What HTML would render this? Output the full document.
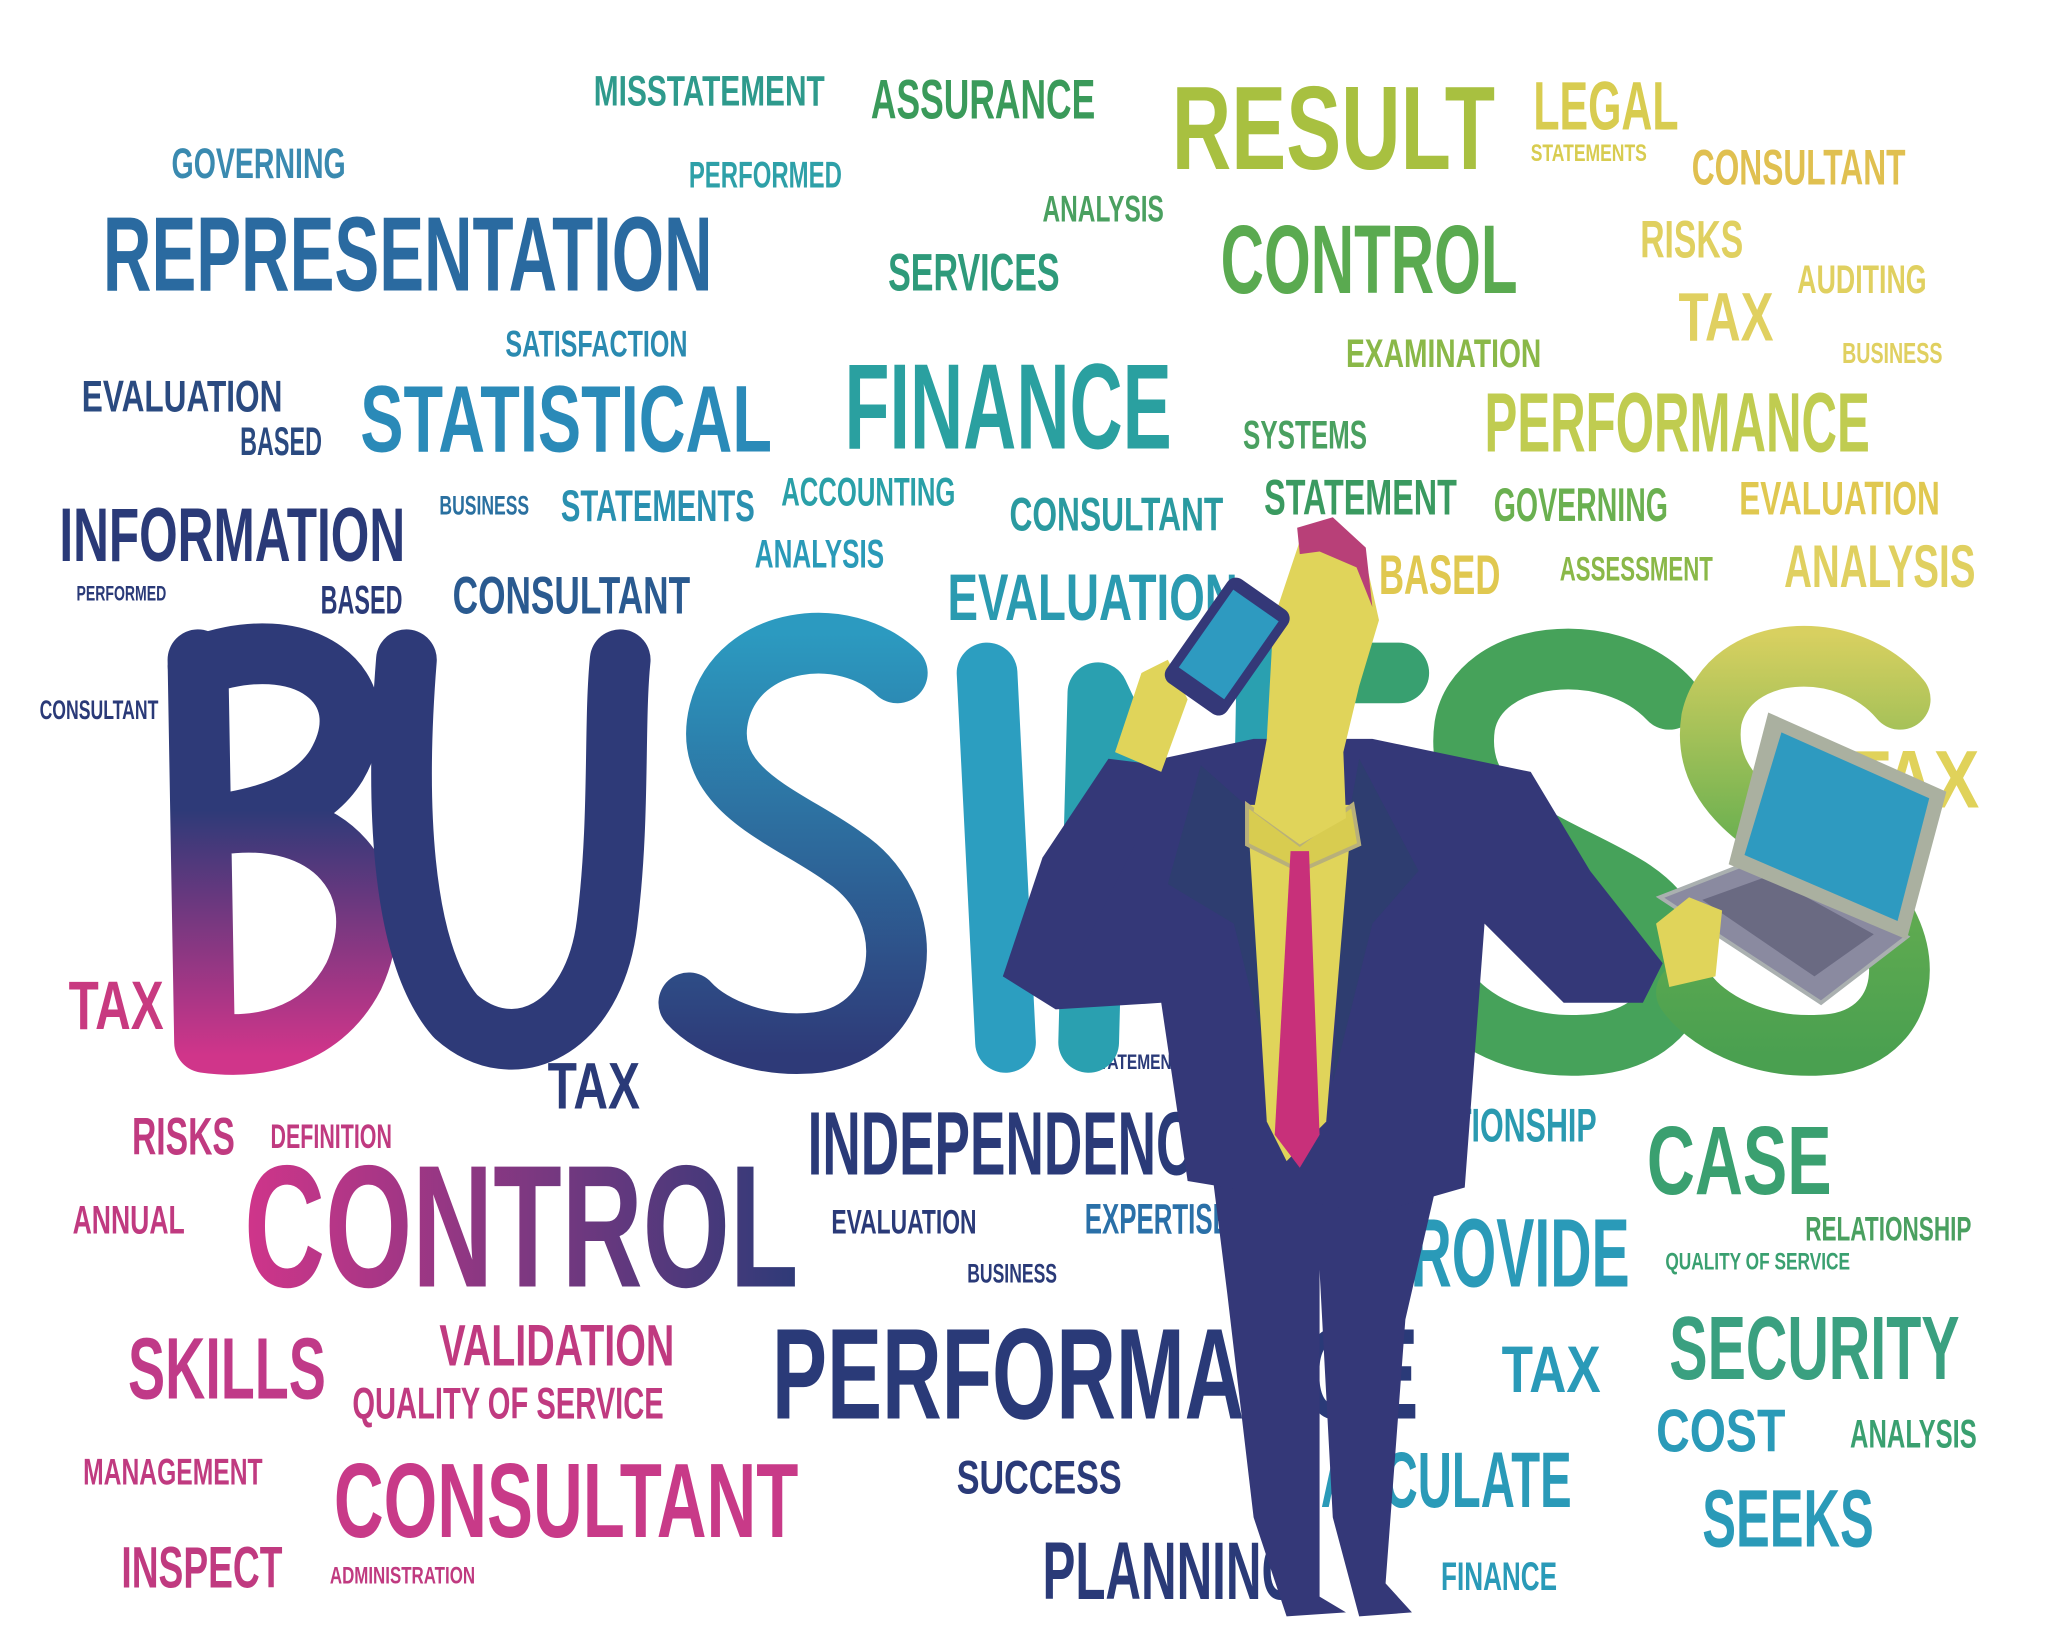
<!DOCTYPE html>
<html><head><meta charset="utf-8"><style>
html,body{margin:0;padding:0;background:#fff;width:2048px;height:1652px;overflow:hidden}
svg{display:block}
text{font-family:"Liberation Sans Narrow","Liberation Sans",sans-serif;font-weight:bold;}
</style></head><body>
<svg width="2048" height="1652" viewBox="0 0 1552 1252" preserveAspectRatio="none" xmlns="http://www.w3.org/2000/svg">
<defs>
<linearGradient id="gB" gradientUnits="userSpaceOnUse" x1="0" y1="490" x2="0" y2="800"><stop offset="0.4" stop-color="#2e3a78"/><stop offset="1" stop-color="#d0358a"/></linearGradient>
<linearGradient id="gS" gradientUnits="userSpaceOnUse" x1="0" y1="480" x2="0" y2="800"><stop offset="0" stop-color="#2c9ac0"/><stop offset="1" stop-color="#2e3a78"/></linearGradient>
<linearGradient id="gS4" gradientUnits="userSpaceOnUse" x1="0" y1="480" x2="0" y2="800"><stop offset="0" stop-color="#d8d060"/><stop offset="0.5" stop-color="#6ab050"/><stop offset="1" stop-color="#4aa050"/></linearGradient>
<linearGradient id="gC" x1="0" y1="0" x2="1" y2="0"><stop offset="0" stop-color="#d0358a"/><stop offset="1" stop-color="#2e3a78"/></linearGradient>
</defs>
<g id="words"></g>
<g fill="none" stroke-width="46" stroke-linecap="round" stroke-linejoin="round">
<path d="M150,500 L155,790 M150,505 C230,475 290,520 255,580 C235,612 195,620 165,625 C250,612 300,670 268,740 C242,790 190,795 155,790" stroke="url(#gB)"/>
<path d="M308,500 C300,600 302,720 345,770 C390,810 450,780 460,700 C470,620 465,550 470,500" stroke="#2e3a78"/>
<path d="M680,510 C640,472 560,482 545,540 C530,600 600,620 640,650 C700,690 690,780 620,790 C580,795 540,780 522,760" stroke="url(#gS)"/>
<path d="M748,510 L762,790" stroke="#2c9ec0"/>
<path d="M825,790 L832,525 L955,785 L960,510" stroke="#2aa0b0"/>
<path d="M1060,510 L990,510 L985,785 L1070,785 M985,640 L1050,640" stroke="#38a070"/>
<path d="M1265,530 C1220,482 1120,492 1110,550 C1100,620 1180,640 1230,670 C1300,710 1280,790 1200,792 C1150,795 1112,772 1098,752" stroke="#46a25a"/>
<path d="M1440,530 C1400,482 1310,487 1297,545 C1287,610 1360,635 1400,665 C1460,710 1450,790 1380,792 C1330,795 1292,772 1278,752" stroke="url(#gS4)"/>
</g>
<text x="1400" y="612" font-size="62" fill="#e0d25a" textLength="100" lengthAdjust="spacingAndGlyphs">TAX</text>
<g>
<polygon points="915,860 1000,870 1000,1210 1020,1222 975,1225 950,1150 930,980" fill="#343878"/>
<polygon points="995,870 1095,870 1065,1000 1050,1200 1070,1222 1030,1225 1010,1150" fill="#343878"/>
<polygon points="880,575 950,560 1040,560 1160,585 1205,660 1260,730 1245,760 1185,760 1125,700 1110,900 1040,920 960,905 900,895 880,760 800,765 760,740 790,660 850,590" fill="#343878"/>
<polygon points="760,740 790,650 840,575 880,580 860,640 800,760" fill="#343878"/>
<polygon points="910,580 955,620 965,820 935,700 885,670" fill="#2e3d70"/>
<polygon points="1030,575 1075,660 1040,700 1010,820 1020,630" fill="#2e3d70"/>
<polygon points="945,610 1025,610 1005,850 975,880 960,850" fill="#e0d45a"/>
<polygon points="945,610 985,640 1025,610 1030,640 985,660 945,640" fill="#d8cc50" stroke="#b8b07a" stroke-width="3"/>
<polygon points="978,645 992,645 1000,860 985,885 966,860" fill="#c8307a"/>
<polygon points="985,410 1035,425 1045,470 1030,520 1018,570 1020,620 985,640 950,615 960,560 965,470" fill="#e0d45a"/>
<polygon points="983,400 1010,392 1035,415 1040,460 1028,430 1000,418 985,420" fill="#b84078"/>
<polygon points="845,570 865,510 885,500 900,530 880,585" fill="#e0d45a"/>
<g transform="translate(930,490) rotate(35)">
<rect x="-28" y="-48" width="56" height="96" rx="8" fill="#343878"/>
<rect x="-21" y="-38" width="42" height="72" fill="#2e9ac0"/>
</g>
<polygon points="1258,680 1335,650 1445,710 1380,760" fill="#8a8aa0" stroke="#aab0b0" stroke-width="3"/>
<polygon points="1290,682 1340,664 1420,708 1375,740" fill="#6a6a82"/>
<polygon points="1340,540 1475,600 1445,712 1310,655" fill="#aab0a0"/>
<polygon points="1350,555 1462,605 1438,698 1322,648" fill="#2e9ac0"/>
<polygon points="1255,700 1280,680 1305,690 1300,740 1265,748" fill="#e0d45a"/>
</g>
<script>
const words=[
["MISSTATEMENT",450,80,175,32,"#2e9a8c"],["ASSURANCE",660,90,170,42,"#3a9a5a"],["RESULT",888,128,245,90,"#a8c040"],
["LEGAL",1162,98,110,52,"#d8cc50"],["STATEMENTS",1160,122,88,18,"#d8cc50"],["CONSULTANT",1282,140,162,38,"#e0c050"],
["GOVERNING",130,135,132,32,"#3a8ab0"],["PERFORMED",522,142,116,28,"#2ea0a8"],["ANALYSIS",790,168,92,28,"#4aa060"],
["REPRESENTATION",78,220,462,80,"#2a6aa0"],["SERVICES",673,220,130,40,"#2e9a7a"],["CONTROL",925,222,225,74,"#5aaa50"],
["RISKS",1243,195,78,40,"#e0d060"],["AUDITING",1362,222,98,30,"#e0d060"],["TAX",1272,258,72,52,"#e0d060"],
["SATISFACTION",383,270,138,28,"#2a8ab0"],["EXAMINATION",1020,278,148,30,"#8ab848"],["BUSINESS",1396,275,76,22,"#e0d060"],
["EVALUATION",62,312,152,34,"#2a4a80"],["BASED",182,345,62,30,"#2a4a80"],["STATISTICAL",273,342,312,72,"#2a8ab8"],
["FINANCE",640,340,248,92,"#2aa0a0"],["SYSTEMS",942,340,94,30,"#4aa060"],["PERFORMANCE",1125,342,292,64,"#c0cc50"],
["INFORMATION",45,425,262,58,"#2a3a78"],["BUSINESS",333,390,68,20,"#2a70a0"],["STATEMENTS",425,395,147,34,"#2a90b0"],
["ACCOUNTING",592,383,132,30,"#2aa0a8"],["CONSULTANT",765,402,162,36,"#2a9aa0"],["STATEMENT",958,390,146,38,"#3a9a60"],
["GOVERNING",1132,395,132,36,"#6ab050"],["EVALUATION",1318,390,152,36,"#e0c850"],["ANALYSIS",572,430,98,30,"#2a9ab8"],
["PERFORMED",58,455,68,16,"#2a3a78"],["BASED",243,465,62,30,"#2a3a78"],["CONSULTANT",343,465,180,40,"#2a5a90"],
["EVALUATION",718,470,220,50,"#2a9ab0"],["BASED",1045,450,92,42,"#e0c850"],["ASSESSMENT",1182,440,116,26,"#8ab848"],
["ANALYSIS",1352,445,145,46,"#e0d060"],["CONSULTANT",30,545,90,20,"#2a3a78"],["TAX",52,780,72,52,"#c83a80"],
["STATEMENTS",825,810,78,16,"#2a3a78"],["TAX",415,840,70,50,"#2a3a78"],["RISKS",100,875,78,40,"#c03a80"],
["DEFINITION",205,870,92,26,"#c03a80"],["INDEPENDENCE",612,890,320,68,"#2a3a78"],["RELATIONSHIP",1040,865,170,36,"#2a9ab0"],
["CASE",1248,905,140,74,"#3aa070"],["ANNUAL",55,935,85,30,"#c03a80"],["EVALUATION",630,935,110,26,"#2a3a78"],
["EXPERTISE",822,935,110,32,"#2a70a8"],["PROVIDE",1040,975,195,74,"#2a9ab8"],["RELATIONSHIP",1368,940,126,26,"#4aa060"],
["QUALITY OF SERVICE",1262,962,140,18,"#3aa070"],["BUSINESS",733,972,68,20,"#2a3a78"],["SKILLS",97,1060,150,66,"#c03a88"],
["VALIDATION",333,1035,178,44,"#c03a80"],["QUALITY OF SERVICE",267,1075,236,34,"#c03a80"],["PERFORMANCE",585,1075,490,98,"#2a3a78"],
["TAX",1138,1055,75,50,"#2a9ab8"],["SECURITY",1265,1045,220,68,"#3aa080"],["COST",1255,1100,98,46,"#2a9ab8"],
["ANALYSIS",1402,1097,96,30,"#3aa070"],["MANAGEMENT",63,1125,136,28,"#c03a80"],["CONSULTANT",253,1165,352,80,"#c83a88"],
["SUCCESS",725,1132,125,36,"#2a3a78"],["CALCULATE",975,1142,216,60,"#2a9ab8"],["SEEKS",1290,1172,130,62,"#2a9ab8"],
["INSPECT",92,1203,122,44,"#c03a80"],["ADMINISTRATION",250,1200,110,18,"#c03a80"],["PLANNING",790,1212,195,62,"#2a3a78"],
["FINANCE",1092,1205,88,30,"#2a9ab8"]
];
const g=document.getElementById('words');
const NS="http://www.w3.org/2000/svg";
words.forEach(w=>{
  const t=document.createElementNS(NS,'text');
  
  
  t.setAttribute('x',w[1]);t.setAttribute('y',w[2]);
  t.setAttribute('textLength',w[3]);t.setAttribute('lengthAdjust','spacingAndGlyphs');
  t.setAttribute('font-size',w[4]);
  t.setAttribute('fill',w[5]);
  t.textContent=w[0];
  g.appendChild(t);
});
const c=document.createElementNS(NS,'text');


c.setAttribute('x',185);c.setAttribute('y',975);c.setAttribute('textLength',420);
c.setAttribute('lengthAdjust','spacingAndGlyphs');c.setAttribute('font-size',132);
c.setAttribute('fill','url(#gC)');c.textContent='CONTROL';
g.appendChild(c);
</script>
</svg>
</body></html>
